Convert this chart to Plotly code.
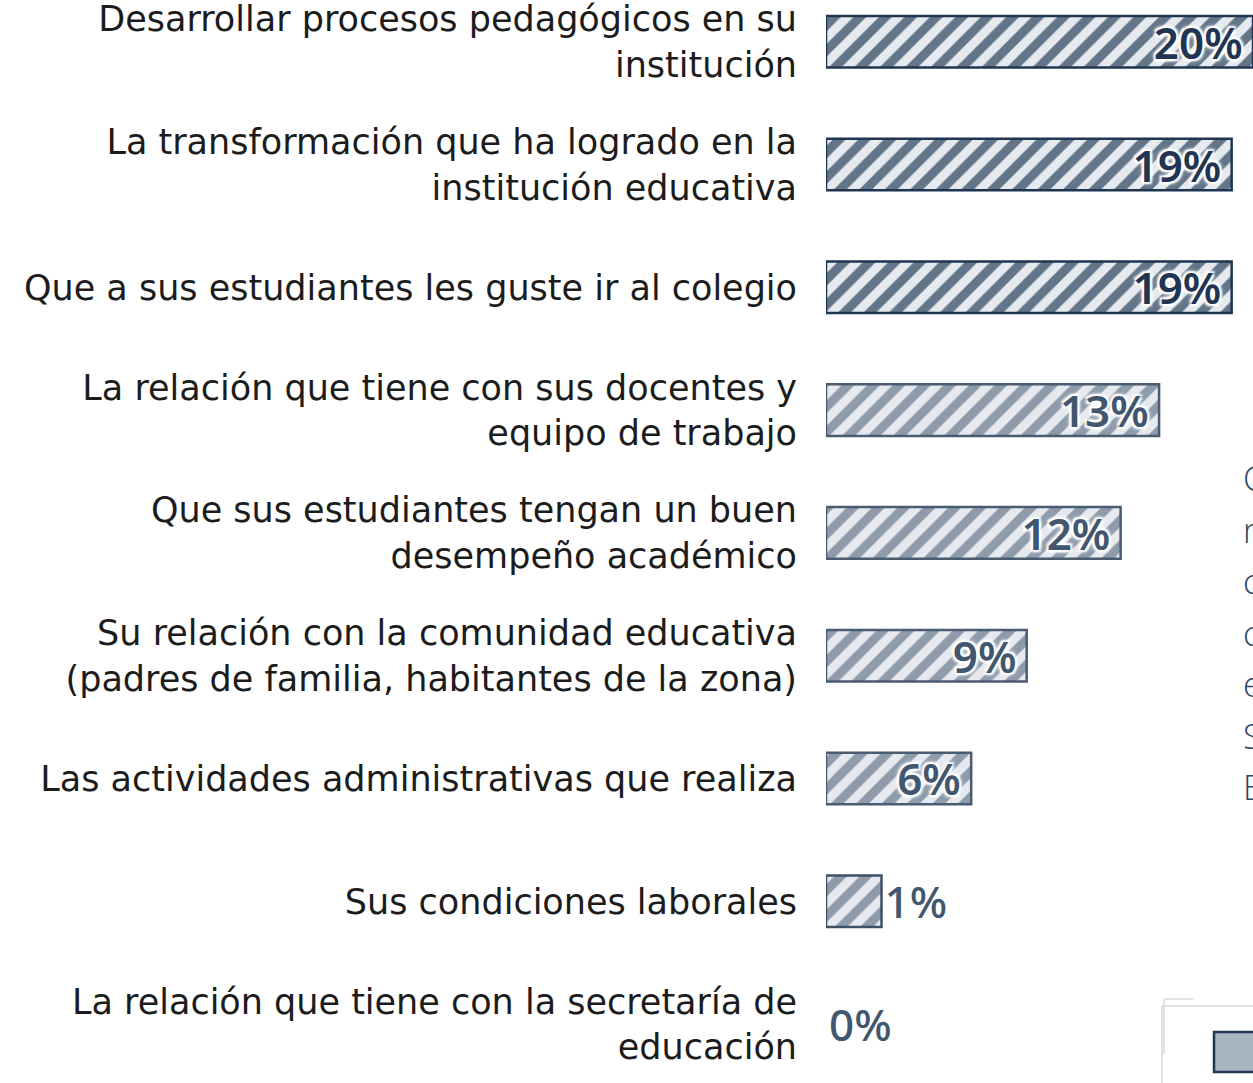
import plotly.graph_objects as go

categories = [
    "Desarrollar procesos pedagógicos en su<br>institución",
    "La transformación que ha logrado en la<br>institución educativa",
    "Que a sus estudiantes les guste ir al colegio",
    "La relación que tiene con sus docentes y<br>equipo de trabajo",
    "Que sus estudiantes tengan un buen<br>desempeño académico",
    "Su relación con la comunidad educativa<br>(padres de familia, habitantes de la zona)",
    "Las actividades administrativas que realiza",
    "Sus condiciones laborales",
    "La relación que tiene con la secretaría de<br>educación",
]
bar_lengths = [20.0, 19.0, 19.0, 15.6, 13.8, 9.4, 6.8, 2.6, 0.0]
pct_labels = ["20%", "19%", "19%", "13%", "12%", "9%", "6%", "1%", "0%"]
side_letters = ["C", "n", "c", "c", "e", "S", "E"]

W, H = 1253, 1083
L = 826
pw = W - L

def px(x):
    return (x - L) / pw

def py(y):
    return 1 - y / H

dark = "#1f3552"
mid = "#41566f"
n = len(bar_lengths)
line_cols = [dark] * 3 + ["#4a5c72"] * 4 + ["#3d5068"] * 2
line_w = [2.5] * (n - 1) + [0]
fg_cols = ["#627589"] * 3 + ["#8e9bab"] * 6
txt_cols = [dark] * 3 + [mid] * 6
text_pos = ["inside"] * 7 + ["outside"] * 2

fig = go.Figure()
fig.add_trace(go.Bar(
    y=categories,
    x=bar_lengths,
    orientation="h",
    width=0.42,
    text=pct_labels,
    texttemplate="%{text}\u2009",
    textposition=text_pos,
    insidetextanchor="end",
    constraintext="none",
    cliponaxis=False,
    insidetextfont=dict(family="Noto Sans", size=44, color=txt_cols, weight=600,
                        shadow="2px 2px 2px white, -2px -2px 2px white, 2px -2px 2px white, -2px 2px 2px white, 0px 0px 6px white"),
    outsidetextfont=dict(family="Noto Sans", size=44, color=txt_cols, weight=500),
    marker=dict(
        color="#dde2e8",
        line=dict(color=line_cols, width=line_w),
        pattern=dict(shape="/", fgcolor=fg_cols, bgcolor="#e6e9ed", size=18, solidity=0.5, fillmode="replace"),
    ),
    showlegend=False,
    hoverinfo="skip",
))

annotations = []
for i, ch in enumerate(side_letters):
    annotations.append(dict(
        text=ch, xref="paper", yref="paper", x=px(1241), y=py(478 + i * 51.5),
        xanchor="left", yanchor="middle", showarrow=False,
        font=dict(family="Open Sans", size=34, color="#2c4864", weight=300),
    ))

shapes = [
    dict(type="line", xref="paper", yref="paper", x0=px(1164), x1=px(1193), y0=py(999), y1=py(999),
         line=dict(color="#e2e2e2", width=2)),
    dict(type="line", xref="paper", yref="paper", x0=px(1164), x1=px(1164), y0=py(999), y1=py(1054),
         line=dict(color="#e2e2e2", width=2)),
    dict(type="line", xref="paper", yref="paper", x0=px(1162), x1=px(1253), y0=py(1006), y1=py(1006),
         line=dict(color="#e2e2e2", width=2)),
    dict(type="line", xref="paper", yref="paper", x0=px(1162), x1=px(1162), y0=py(1006), y1=py(1083),
         line=dict(color="#e2e2e2", width=2)),
    dict(type="rect", xref="paper", yref="paper", x0=px(1214), x1=px(1255), y0=py(1032), y1=py(1072),
         fillcolor="#a9b4c1", line=dict(color=dark, width=2.5)),
]

fig.update_layout(
    width=W, height=H,
    margin=dict(l=L, r=0, t=0, b=0, pad=0),
    plot_bgcolor="white", paper_bgcolor="white",
    xaxis=dict(range=[0, 20.0], visible=False, fixedrange=True),
    yaxis=dict(range=[8.48, -0.34], showgrid=False, zeroline=False, showline=False,
               ticks="", ticklabelstandoff=28, fixedrange=True,
               tickfont=dict(family="DejaVu Sans", size=35, color="#1c1c1c")),
    annotations=annotations,
    shapes=shapes,
)

fig.write_html("out.html", config={"displayModeBar": False},
               post_script="document.body.style.margin='0';")
